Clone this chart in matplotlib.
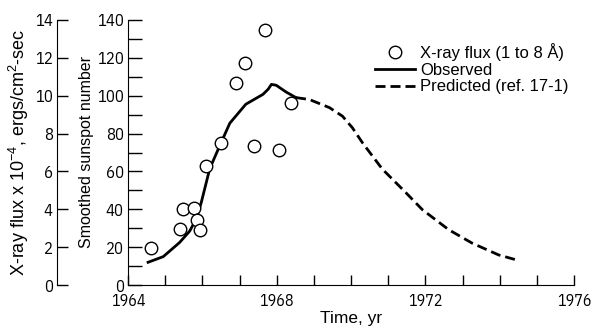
import matplotlib
matplotlib.use('Agg')
import matplotlib.pyplot as plt
import matplotlib.transforms as mtrans
from matplotlib.legend_handler import HandlerLine2D
from matplotlib.ticker import MultipleLocator

plt.rcParams['font.family'] = ['Liberation Sans', 'DejaVu Sans']
plt.rcParams['mathtext.default'] = 'regular'
TICKFONT = ['IBM Plex Sans Condensed', 'DejaVu Sans']

# X-ray flux (1 to 8 A), units of 1e-4 ergs/cm2-sec
flux_years = [1964.63, 1965.39, 1965.48, 1965.77, 1965.86, 1965.95, 1966.11,
              1966.50, 1966.91, 1967.16, 1967.38, 1967.68, 1968.07, 1968.39]
flux_values = [1.95, 2.95, 4.03, 4.08, 3.45, 2.92, 6.31,
               7.48, 10.69, 11.72, 7.32, 13.48, 7.14, 9.63]

# smoothed sunspot number, observed
obs_years = [1964.54, 1964.95, 1965.39, 1965.66, 1965.84, 1965.97, 1966.20,
             1966.50, 1966.74, 1967.17, 1967.63, 1967.77, 1967.86, 1967.99,
             1968.25, 1968.52]
obs_values = [12, 15, 22.5, 28.5, 35, 43.5, 61.5,
              75, 85.5, 95.5, 100.7, 103.4, 106, 105.5,
              102, 99]

# smoothed sunspot number, predicted (ref. 17-1)
pred_years = [1968.52, 1968.88, 1969.42, 1969.77, 1970.04, 1970.31, 1970.84,
              1971.47, 1971.92, 1972.63, 1973.26, 1973.97, 1974.46]
pred_values = [99, 98, 93.7, 89.2, 83, 75.1, 61.3,
               48.9, 39.8, 29.2, 22.1, 15.9, 13.2]

year_ticks = [1964, 1968, 1972, 1976]


class RightMarker(HandlerLine2D):
    # put the legend circle at the right end of the handle
    def get_xdata(self, legend, xdescent, ydescent, width, height, fontsize):
        xdata, _ = super().get_xdata(legend, xdescent, ydescent, width, height, fontsize)
        return xdata, [-xdescent + width - 0.3 * fontsize]


fig = plt.figure(figsize=(5.92, 3.32), dpi=100)
W, H = 592, 332

ax = fig.add_axes([128 / W, 47 / H, 446 / W, 265 / H])
ax.set_xlim(1964, 1976)
ax.set_ylim(0, 140)

line_obs, = ax.plot(obs_years, obs_values, color='black', lw=2.0)
line_pred, = ax.plot(pred_years, pred_values, color='black', lw=2.0,
                     dashes=(3.6, 1.8))
pts, = ax.plot(flux_years, [v * 10 for v in flux_values], 'o', ms=9,
               mfc='white', mec='black', mew=1.0, ls='none')

ax.spines['top'].set_visible(False)
ax.spines['right'].set_visible(False)
ax.set_xticks(year_ticks)
ax.xaxis.set_minor_locator(MultipleLocator(1))
ax.yaxis.set_major_locator(MultipleLocator(20))
ax.yaxis.set_minor_locator(MultipleLocator(10))
ax.tick_params(axis='x', which='both', direction='in', length=7, width=1,
               pad=6, labelsize=11.5)
ax.tick_params(axis='y', which='both', direction='in', length=10, width=1,
               pad=3, labelsize=12)
for t in ax.get_xticklabels() + ax.get_yticklabels():
    t.set_family(TICKFONT)

ax.set_xlabel('Time, yr', fontsize=12.5)
ax.xaxis.set_label_coords(0.5, -0.1)
ax.set_ylabel('Smoothed sunspot number', fontsize=11.5)
ax.yaxis.set_label_coords(94 / W, 0.5,
                          transform=mtrans.blended_transform_factory(fig.transFigure, ax.transAxes))

ax.legend([pts, line_obs, line_pred],
          ['X-ray flux (1 to 8 \u00c5)', 'Observed', 'Predicted (ref. 17-1)'],
          handler_map={pts: RightMarker(numpoints=1)},
          loc='upper left', bbox_to_anchor=(0.553, 0.913), frameon=False,
          fontsize=12, handlelength=2.4, handletextpad=0.35,
          labelspacing=0.1, borderpad=0, borderaxespad=0)

# outer axis for X-ray flux
ax2 = fig.add_axes([57 / W, 47 / H, 10 / W, 265 / H])
ax2.patch.set_visible(False)
for s in ['top', 'right', 'bottom']:
    ax2.spines[s].set_visible(False)
ax2.set_xticks([])
ax2.set_ylim(0, 14)
ax2.set_yticks(range(0, 15, 2))
ax2.tick_params(axis='y', direction='in', length=8, width=1, pad=3,
                labelsize=12)
for t in ax2.get_yticklabels():
    t.set_family(TICKFONT)
ax2.set_ylabel('X-ray flux x 10$^{-4}$, ergs/cm$^{2}$-sec', fontsize=13)
ax2.yaxis.set_label_coords(31 / W, 0.5,
                           transform=mtrans.blended_transform_factory(fig.transFigure, ax2.transAxes))

fig.savefig('out.png', dpi=100)
